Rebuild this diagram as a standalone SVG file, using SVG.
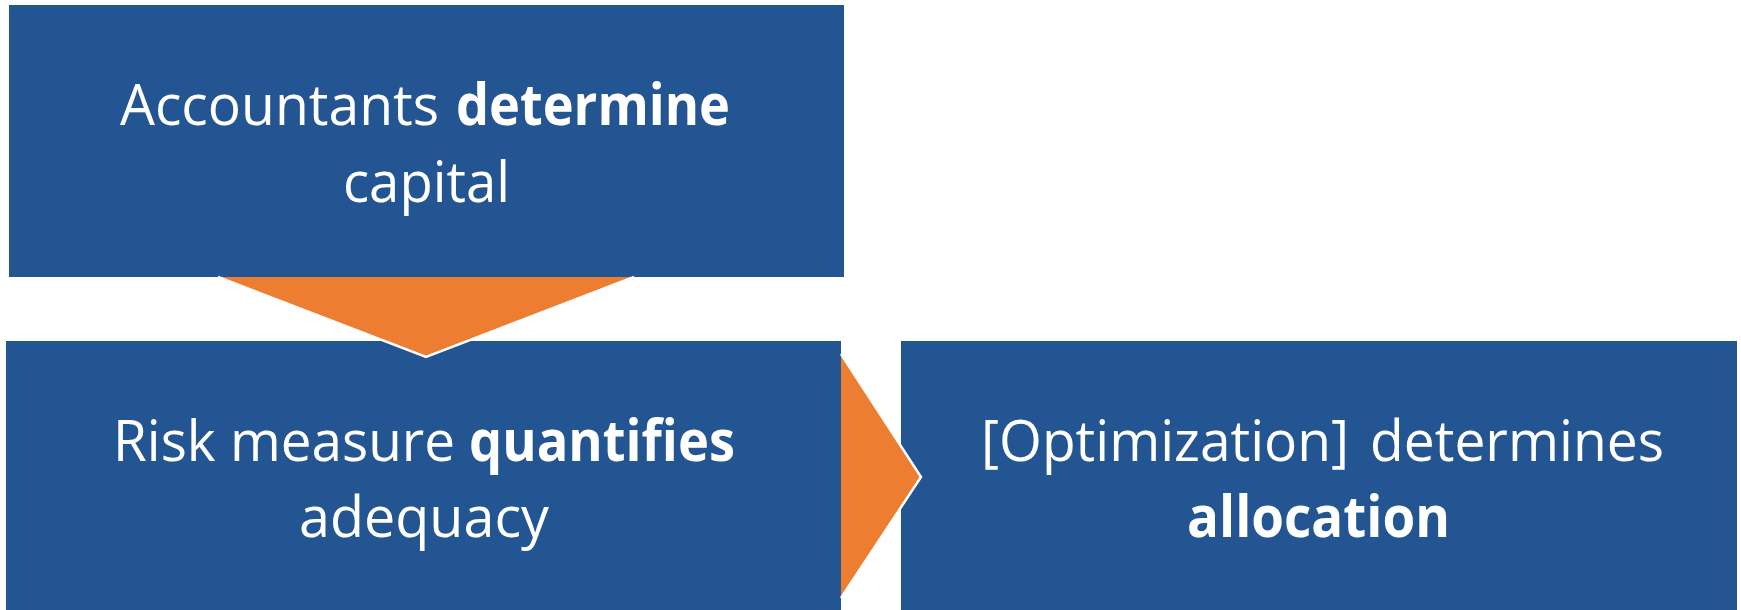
<svg xmlns="http://www.w3.org/2000/svg" width="1741" height="610" viewBox="0 0 1741 610">
  <style>
    .box { fill: #245593; }
    .arrow { fill: #ED7D31; }
    .edge { fill: none; stroke: #FFFFFF; stroke-width: 2.5; stroke-linejoin: miter; }
    text { font-family: "Open Sans", "Noto Sans", "Liberation Sans", sans-serif; font-size: 57px; fill: #FFFFFF; }
    .b { font-weight: bold; }
  </style>

  <rect width="1741" height="610" fill="#FFFFFF"/>

  <!-- step 1 -->
  <g id="node-accountants">
    <rect class="box" x="9" y="5" width="835" height="272"/>
    <text x="120" y="125" textLength="319" lengthAdjust="spacingAndGlyphs">Accountants</text>
    <text class="b" x="456" y="125" textLength="274" lengthAdjust="spacingAndGlyphs">determine</text>
    <text x="343" y="202" textLength="167" lengthAdjust="spacingAndGlyphs">capital</text>
  </g>

  <!-- step 2 -->
  <g id="node-risk">
    <rect class="box" x="6" y="341" width="835" height="269"/>
    <text x="113" y="461" textLength="342" lengthAdjust="spacingAndGlyphs">Risk measure</text>
    <text class="b" x="469" y="461" textLength="266" lengthAdjust="spacingAndGlyphs">quantifies</text>
    <text x="299" y="537" textLength="250" lengthAdjust="spacingAndGlyphs">adequacy</text>
  </g>

  <!-- step 3 -->
  <g id="node-allocation">
    <rect class="box" x="901" y="341" width="836" height="269"/>
    <text x="981" y="461" textLength="368" lengthAdjust="spacingAndGlyphs">[Optimization]</text>
    <text x="1370" y="461" textLength="294" lengthAdjust="spacingAndGlyphs">determines</text>
    <text class="b" x="1187" y="537" textLength="263" lengthAdjust="spacingAndGlyphs">allocation</text>
  </g>

  <!-- flow arrows -->
  <g id="connectors">
    <polygon class="arrow" points="218,277 634,277 426,357"/>
    <polyline class="edge" points="218,277 426,357 634,277"/>
    <polygon class="arrow" points="841,354 921,477 841,598"/>
    <polyline class="edge" points="841,354 921,477 841,598"/>
  </g>
</svg>
